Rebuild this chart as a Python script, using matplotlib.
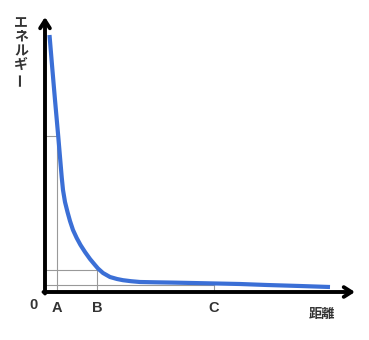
import matplotlib
matplotlib.use('Agg')
import matplotlib.pyplot as plt

# Curve (arbitrary units)
distance = [4.5, 7, 10, 13.3, 15, 16.7, 18, 20, 22.5, 25, 28, 31.7, 35.5, 40, 45,
            50, 53, 58, 65, 72, 78, 86, 95, 110, 128, 162, 195, 222, 255, 285]
energy = [257, 227, 192, 155, 135, 115, 102, 90, 80, 71, 62, 54, 47, 40, 33,
          27, 23.5, 19, 15, 13, 11.8, 10.8, 10, 9.7, 9.4, 8.7, 8, 7, 6, 5]

# Marked positions on the distance axis and their energies
marks = ['A', 'B', 'C']
mark_dist = [11.5, 52, 169]
mark_energy = [156, 22, 7]

x_label = '距離'
y_label = ['エ', 'ネ', 'ル', 'ギ', 'ー']

fig = plt.figure(figsize=(3.69, 3.40), dpi=100)
ax = fig.add_axes([0, 0, 1, 1])
ax.set_xlim(-45, 324)
ax.set_ylim(-48, 292)
ax.axis('off')

# guide lines
for name, d, e in zip(marks, mark_dist, mark_energy):
    ax.plot([d, d], [0, e], color='#999999', lw=0.8, zorder=1)
    ax.plot([0, d], [e, e], color='#999999', lw=0.8, zorder=1)
    ax.text(d, -16.5, name, ha='center', va='center', fontsize=10.5,
            fontweight='bold', color='#333333', family='Liberation Sans')

ax.text(-12, -13, '0', ha='center', va='center', fontsize=10.5,
        fontweight='bold', color='#333333', family='Liberation Sans')

# curve
ax.plot(distance, energy, color='#3b6fd6', lw=3, solid_capstyle='butt',
        solid_joinstyle='round', zorder=3)

# axes with arrows
arrow = dict(arrowstyle='->,head_length=0.55,head_width=0.35', lw=2.8, color='black',
             shrinkA=0, shrinkB=0)
ax.annotate('', xy=(310, 0), xytext=(-1.5, 0), arrowprops=arrow, zorder=4)
ax.annotate('', xy=(0, 275), xytext=(0, -1.5), arrowprops=arrow, zorder=4)

ax.text(277, -22, x_label, ha='center', va='center', fontsize=9.5,
        fontweight='bold', color='#333333', family=['Noto Sans CJK JP', 'DejaVu Sans'])

# vertical label, one character per line
y0 = 269
for i, ch in enumerate(y_label):
    rot = 90 if ch == 'ー' else 0
    ax.text(-24, y0 - 14 * i, ch, ha='center', va='center', fontsize=10,
            fontweight='bold', color='#333333', rotation=rot,
            family=['Noto Sans CJK JP', 'DejaVu Sans'])

fig.savefig('out.png', dpi=100)
